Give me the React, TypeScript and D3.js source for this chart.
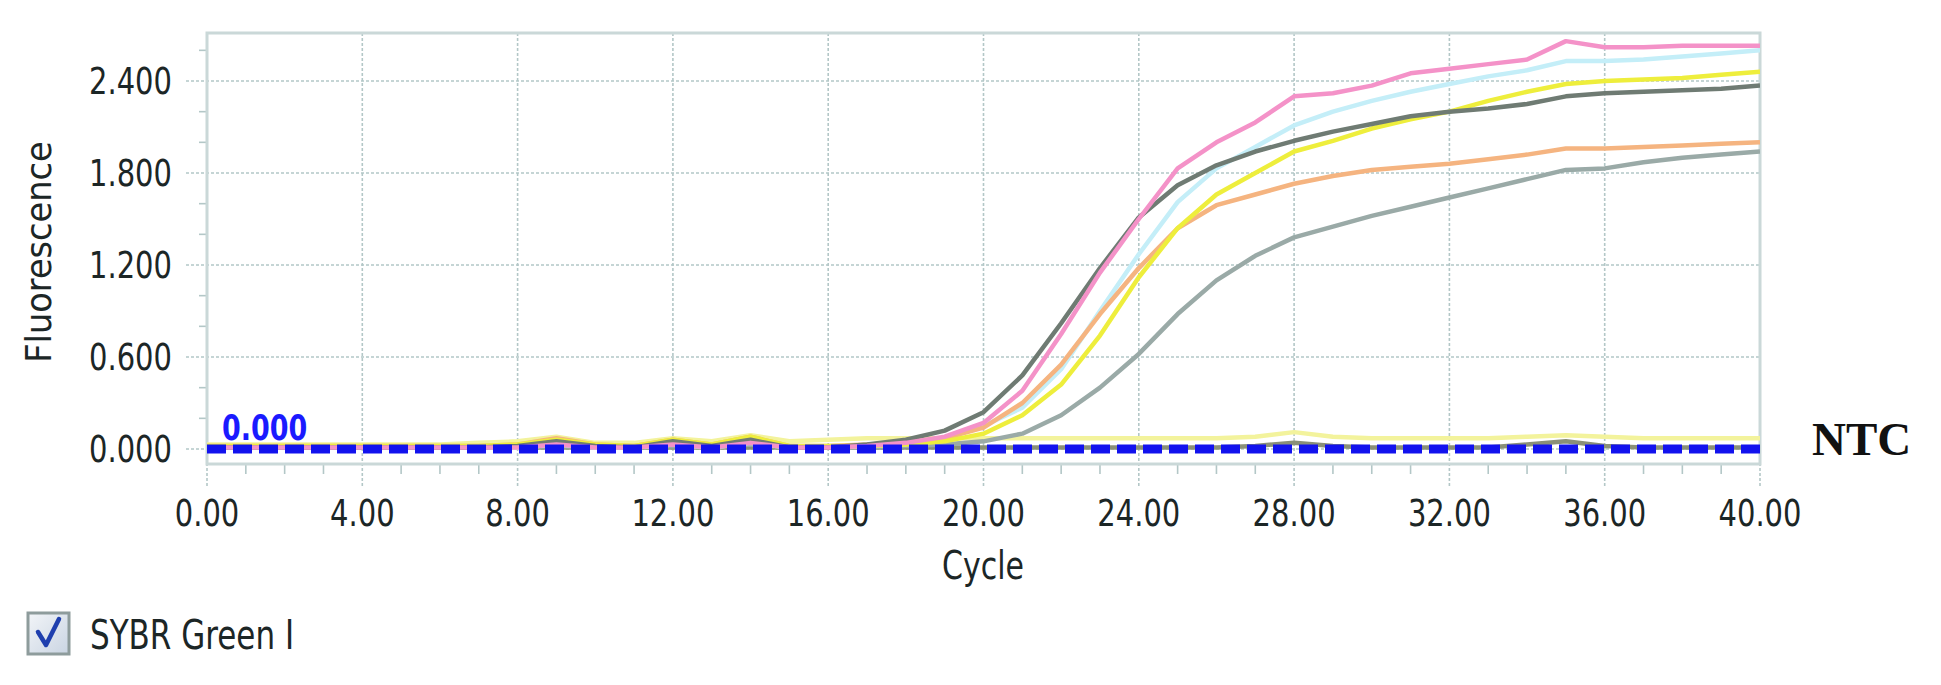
import React from "react";
import * as d3 from "d3";

const cycles = [0,1,2,3,4,5,6,7,8,9,10,11,12,13,14,15,16,17,18,19,20,21,22,23,24,25,26,27,28,29,30,31,32,33,34,35,36,37,38,39,40];

const seriesPink = [0.01,0.01,0.01,0.01,0.01,0.01,0.01,0.01,0.01,0.03,0.01,0.01,0.03,0.01,0.04,0.01,0.01,
  0.02,0.04,0.08,0.17,0.38,0.75,1.15,1.50,1.83,2.00,2.13,2.30,2.32,2.37,2.45,2.48,2.51,2.54,2.66,2.62,2.62,2.63,2.63,2.63];
const seriesCyan = [0.01,0.01,0.01,0.01,0.01,0.01,0.01,0.01,0.01,0.03,0.01,0.01,0.03,0.01,0.04,0.01,0.01,
  0.02,0.03,0.07,0.15,0.27,0.52,0.90,1.27,1.61,1.83,1.97,2.11,2.20,2.27,2.33,2.38,2.43,2.47,2.53,2.53,2.54,2.56,2.58,2.60];
const seriesOrange = [0.02,0.02,0.02,0.02,0.02,0.02,0.02,0.02,0.03,0.07,0.03,0.02,0.06,0.03,0.08,0.02,0.02,
  0.03,0.04,0.07,0.14,0.30,0.55,0.88,1.18,1.44,1.59,1.66,1.73,1.78,1.82,1.84,1.86,1.89,1.92,1.96,1.96,1.97,1.98,1.99,2.00];
const seriesYellow = [0.02,0.02,0.02,0.02,0.02,0.02,0.02,0.02,0.03,0.06,0.03,0.02,0.06,0.03,0.08,0.02,0.02,
  0.02,0.03,0.05,0.10,0.22,0.42,0.74,1.12,1.44,1.66,1.80,1.94,2.01,2.09,2.15,2.20,2.27,2.33,2.38,2.40,2.41,2.42,2.44,2.46];
const seriesDark = [0.01,0.01,0.01,0.01,0.01,0.01,0.01,0.01,0.02,0.05,0.02,0.01,0.05,0.02,0.06,0.01,0.01,
  0.03,0.06,0.12,0.24,0.48,0.82,1.18,1.51,1.72,1.85,1.94,2.01,2.07,2.12,2.17,2.20,2.22,2.25,2.30,2.32,2.33,2.34,2.35,2.37];
const seriesGray = [0.01,0.01,0.01,0.01,0.01,0.01,0.01,0.01,0.01,0.02,0.01,0.01,0.02,0.01,0.03,0.01,0.01,
  0.01,0.02,0.03,0.05,0.10,0.22,0.40,0.62,0.88,1.10,1.26,1.38,1.45,1.52,1.58,1.64,1.70,1.76,1.82,1.83,1.87,1.90,1.92,1.94];
const seriesNtcYellow = [0.03,0.03,0.03,0.03,0.03,0.03,0.03,0.04,0.05,0.08,0.04,0.04,0.07,0.05,0.09,0.05,
  0.06,0.07,0.07,0.07,0.07,0.07,0.07,0.07,0.07,0.07,0.07,0.08,0.11,0.08,0.07,0.07,0.07,0.07,0.08,0.09,0.08,0.07,0.07,0.07,0.07];
const seriesNtcDark = [0.01,0.01,0.01,0.01,0.01,0.01,0.01,0.01,0.01,0.01,0.01,0.01,0.01,0.01,0.01,0.01,0.01,
  0.01,0.01,0.01,0.01,0.01,0.01,0.01,0.01,0.01,0.01,0.02,0.04,0.02,0.01,0.01,0.01,0.01,0.03,0.05,0.02,0.01,0.01,0.01,0.01];

const seriesList = [
  { name: "NTC-1", values: seriesNtcYellow, color: "#f3f39c" },
  { name: "NTC-2", values: seriesNtcDark, color: "#8a9078" },
  { name: "S6", values: seriesGray, color: "#9aaaa7" },
  { name: "S3", values: seriesCyan, color: "#c4eef8" },
  { name: "S4", values: seriesOrange, color: "#f5b480" },
  { name: "S5", values: seriesYellow, color: "#eeee3c" },
  { name: "S2", values: seriesDark, color: "#6f7b73" },
  { name: "S1", values: seriesPink, color: "#f492c8" },
];

const yMajorTicks = [0, 0.6, 1.2, 1.8, 2.4];
const yTickLabels = ["0.000", "0.600", "1.200", "1.800", "2.400"];
const yMinorTicks = [0.2, 0.4, 0.8, 1.0, 1.4, 1.6, 2.0, 2.2, 2.6];
const xMajorTicks = [0, 4, 8, 12, 16, 20, 24, 28, 32, 36, 40];
const xTickLabels = ["0.00","4.00","8.00","12.00","16.00","20.00","24.00","28.00","32.00","36.00","40.00"];
const xMinorTicks = [1,2,3,5,6,7,9,10,11,13,14,15,17,18,19,21,22,23,25,26,27,29,30,31,33,34,35,37,38,39];
const threshold = 0;
const thresholdLabel = "0.000";

const W = 1941, H = 685;
const L = 207, R = 1760, T = 33, B = 464;

export default function App() {
  const x = d3.scaleLinear().domain([0, 40]).range([L, R]);
  const y = d3.scaleLinear().domain([0, 2.4]).range([449, 81]);
  const line = d3.line<number>().x((_, i) => x(cycles[i])).y((d) => y(d)).curve(d3.curveLinear);
  const font = "'DejaVu Sans', Verdana, sans-serif";
  const textCol = "#1c2626";
  const gridCol = "#b3c7c7";

  return (
    <svg width={W} height={H} style={{ position: "absolute", left: 0, top: 0, display: "block" }} xmlns="http://www.w3.org/2000/svg">
      <defs>
        <linearGradient id="cb" x1="0" y1="0" x2="1" y2="1">
          <stop offset="0" stopColor="#f2f5f8" />
          <stop offset="1" stopColor="#c9d4e2" />
        </linearGradient>
        <clipPath id="plot"><rect x={L} y={T} width={R - L} height={B - T} /></clipPath>
      </defs>
      <rect x={0} y={0} width={W} height={H} fill="#ffffff" />
      <rect x={L} y={T} width={R - L} height={B - T} fill="#ffffff" />

      {/* horizontal grid */}
      {yMajorTicks.map((v) => (
        <line key={"hg" + v} x1={186} x2={R} y1={y(v)} y2={y(v)} stroke={gridCol} strokeWidth={1.6} strokeDasharray="3,2" />
      ))}
      {/* vertical grid */}
      {xMajorTicks.map((c) => (
        <line key={"vg" + c} x1={x(c)} x2={x(c)} y1={T} y2={487} stroke={gridCol} strokeWidth={1.6} strokeDasharray="3,2" />
      ))}
      {yMinorTicks.map((v) => (
        <line key={"ym" + v} x1={199} x2={L} y1={y(v)} y2={y(v)} stroke={gridCol} strokeWidth={1.6} />
      ))}
      {xMinorTicks.map((c) => (
        <line key={"xm" + c} x1={x(c)} x2={x(c)} y1={B} y2={474} stroke={gridCol} strokeWidth={1.6} />
      ))}

      {/* frame */}
      <rect x={L} y={T} width={R - L} height={B - T} fill="none" stroke="#cad8d8" strokeWidth={3} />

      {/* curves */}
      <g clipPath="url(#plot)">
        {seriesList.map((s) => (
          <path key={s.name} d={line(s.values) || ""} fill="none" stroke={s.color} strokeWidth={4.5} strokeLinejoin="round" />
        ))}
        <line x1={L} x2={R} y1={y(threshold)} y2={y(threshold)} stroke="#1212ee" strokeWidth={9} strokeDasharray="19,7" />
      </g>

      {/* threshold label */}
      <text transform={`translate(222,440) scale(1,1.3)`} fontFamily={font} fontWeight="bold" fontSize={27} fill="#1a1aff">{thresholdLabel}</text>

      {/* y tick labels */}
      {yMajorTicks.map((v, i) => (
        <text key={"yl" + v} transform={`translate(172,${y(v)}) scale(1,1.3)`} textAnchor="end" dominantBaseline="central" fontFamily={font} fontSize={29} fill={textCol}>{yTickLabels[i]}</text>
      ))}
      {/* x tick labels */}
      {xMajorTicks.map((c, i) => (
        <text key={"xl" + c} transform={`translate(${x(c)},513) scale(1,1.3)`} textAnchor="middle" dominantBaseline="central" fontFamily={font} fontSize={29} fill={textCol}>{xTickLabels[i]}</text>
      ))}

      {/* axis titles */}
      <text transform={`translate(983,579) scale(1,1.3)`} textAnchor="middle" fontFamily={font} fontSize={30} fill={textCol}>Cycle</text>
      <text transform={`translate(39,252) rotate(-90) scale(1.16,1.2)`} textAnchor="middle" dominantBaseline="central" fontFamily={font} fontSize={29} fill={textCol}>Fluorescence</text>

      {/* NTC */}
      <text x={1812} y={455} fontFamily="'Liberation Serif', 'Times New Roman', serif" fontWeight="bold" fontSize={47} fill="#111111">NTC</text>

      {/* legend */}
      <rect x={28} y={613} width={41} height={41} fill="url(#cb)" stroke="#8e9c9c" strokeWidth={3} />
      <path d="M38,632 L46,645 L59,619" fill="none" stroke="#1f3fae" strokeWidth={4.5} strokeLinecap="round" strokeLinejoin="round" />
      <text transform={`translate(90,649) scale(1,1.3)`} fontFamily={font} fontSize={31} fill={textCol}>SYBR Green I</text>
    </svg>
  );
}
